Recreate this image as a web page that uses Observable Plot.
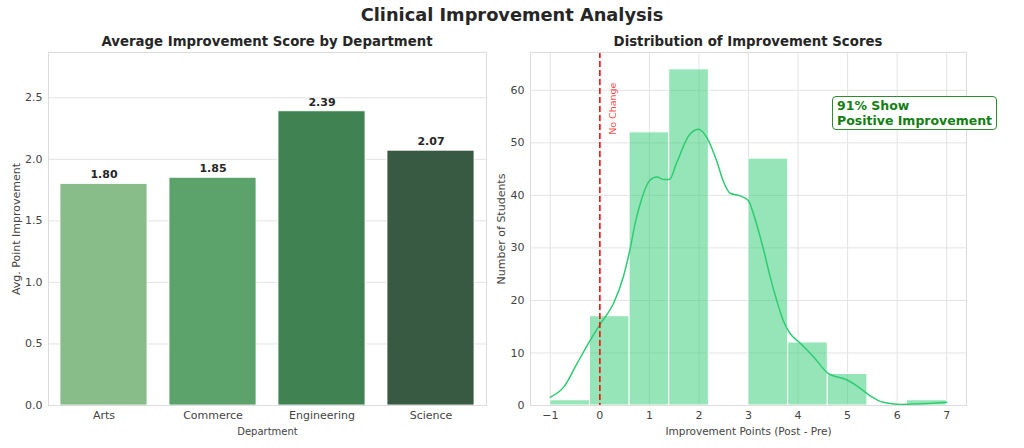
<!DOCTYPE html>
<html>
<head>
<meta charset="utf-8">
<script src="https://cdn.jsdelivr.net/npm/d3@7"></script>
<script src="https://cdn.jsdelivr.net/npm/@observablehq/plot@0.6"></script>
<style>
  body { margin: 0; background: #fff; font-family: "DejaVu Sans", sans-serif; }
  #wrap { position: relative; width: 1024px; height: 448px; overflow: hidden; }
  .abs { position: absolute; }
  .title { top: 4px; left: 0; width: 1024px; text-align: center; font-size: 17.8px; font-weight: bold; color: #262626; }
  .sub { top: 34px; font-size: 13.3px; font-weight: bold; color: #262626; text-align: center; }
  .note { left: 832px; top: 96px; border: 1px solid #2e8b2e; border-radius: 4px; background: #fff;
          color: #138013; font-weight: bold; font-size: 12.5px; line-height: 15px; padding: 1px 4px 1px 4px; white-space: nowrap; }
  svg { overflow: visible; }
</style>
</head>
<body>
<div id="wrap">
  <div id="left" class="abs" style="left:0;top:0"></div>
  <div id="right" class="abs" style="left:500px;top:0"></div>
  <div class="abs title">Clinical Improvement Analysis</div>
  <div class="abs sub" style="left:48px;width:438px">Average Improvement Score by Department</div>
  <div class="abs sub" style="left:530px;width:436px">Distribution of Improvement Scores</div>
  <div class="abs note">91% Show<br>Positive Improvement</div>
</div>
<script>
// ---- Data ----
const departments = ["Arts", "Commerce", "Engineering", "Science"];
const avgImprovement = [1.80, 1.85, 2.39, 2.07];
const deptPalette = ["#88bd8a", "#5ba26b", "#418253", "#385942"];

const binEdges = [-1, -0.2, 0.6, 1.4, 2.2, 3.0, 3.8, 4.6, 5.4, 6.2, 7.0];
const binCounts = [1, 17, 52, 64, 0, 47, 12, 6, 0, 1];

const kdeX = [-1, -0.73, -0.46, -0.19, 0, 0.28, 0.48, 0.61, 0.72, 0.85, 1.0, 1.15, 1.3, 1.4, 1.55, 1.79, 1.99, 2.16, 2.36, 2.5, 2.63, 2.83, 3.0, 3.1, 3.2, 3.3, 3.44, 3.57, 3.7, 3.84, 4.04, 4.31, 4.61, 4.98, 5.18, 5.45, 5.72, 6.06, 6.39, 6.73, 7.0];
const kdeY = [1.6, 3.5, 8, 12.5, 15.4, 19.5, 24.7, 29.8, 35, 39.5, 42.8, 43.5, 43.0, 43.0, 46.2, 51.3, 52.6, 51, 46.5, 42.5, 40.4, 39.9, 39.0, 36.5, 33.3, 29.8, 24.4, 20.0, 16.2, 13.7, 11.9, 9.3, 6.1, 4.9, 3.8, 1.9, 0.6, 0.2, 0.3, 0.45, 0.6];

const xTicksRight = [-1, 0, 1, 2, 3, 4, 5, 6, 7];
const yTicksLeft = [0, 0.5, 1.0, 1.5, 2.0, 2.5];
const yTicksRight = [0, 10, 20, 30, 40, 50, 60];

// ---- Tables ----
const deptData = departments.map((d, i) => ({ dept: d, value: avgImprovement[i] }));
const histData = binCounts.map((c, i) => ({ x1: binEdges[i], x2: binEdges[i + 1], count: c })).filter(d => d.count > 0);
const kdeData = kdeX.map((x, i) => ({ x, y: kdeY[i] }));

const common = {
  style: { fontFamily: "DejaVu Sans, sans-serif", fontSize: "11px", color: "#444", background: "transparent" }
};

// ---- Left chart ----
const left = Plot.plot({
  ...common,
  width: 500, height: 448,
  marginLeft: 48, marginRight: 14, marginTop: 52, marginBottom: 43,
  x: { domain: departments, padding: 0, label: null },
  y: { domain: [0, 2.868], label: null },
  color: { domain: departments, range: deptPalette },
  marks: [
    Plot.gridY(yTicksLeft, { stroke: "#e3e3e3", strokeOpacity: 1, strokeWidth: 1 }),
    Plot.barY(deptData, { x: "dept", y: "value", fill: "dept", insetLeft: 11, insetRight: 11, stroke: "#fff", strokeWidth: 0.8 }),
    Plot.text(deptData, { x: "dept", y: "value", text: d => d.value.toFixed(2), dy: -9, fontWeight: "bold", fontSize: 11, fill: "#262626" }),
    Plot.frame({ stroke: "#dcdcdc" }),
    Plot.axisY(yTicksLeft, { tickSize: 0, tickPadding: 6, tickFormat: d3.format(".1f"), fontSize: 11, label: "Avg. Point Improvement", labelAnchor: "center", labelArrow: "none", labelOffset: 36 }),
    Plot.axisX({ tickSize: 0, tickPadding: 6, fontSize: 11, label: null }),
    Plot.text(["Department"], { frameAnchor: "bottom", dy: 29, fontSize: 10, fill: "#444" })
  ]
});
document.getElementById("left").appendChild(left);

// ---- Right chart ----
const right = Plot.plot({
  ...common,
  width: 524, height: 448,
  marginLeft: 30, marginRight: 58, marginTop: 52, marginBottom: 43,
  x: { domain: [-1.4, 7.4], label: null },
  y: { domain: [0, 67.2], label: null },
  marks: [
    Plot.gridY(yTicksRight, { stroke: "#e3e3e3", strokeOpacity: 1 }),
    Plot.gridX(xTicksRight, { stroke: "#e3e3e3", strokeOpacity: 1 }),
    Plot.rectY(histData, { x1: "x1", x2: "x2", y: "count", fill: "#2ecc71", fillOpacity: 0.5, stroke: "#fff", strokeWidth: 1 }),
    Plot.line(kdeData, { x: "x", y: "y", stroke: "#2ecc71", strokeWidth: 1.5, curve: "monotone-x" }),
    Plot.ruleX([0], { stroke: "red", strokeWidth: 1.5, strokeDasharray: "6,3" }),
    Plot.text(["No Change"], { x: 0.27, y: 56.5, rotate: -90, fill: "red", fillOpacity: 0.75, fontSize: 9.5 }),
    Plot.frame({ stroke: "#dcdcdc" }),
    Plot.axisY(yTicksRight, { tickSize: 0, tickPadding: 6, fontSize: 11, label: "Number of Students", labelAnchor: "center", labelArrow: "none", labelOffset: 33 }),
    Plot.axisX(xTicksRight, { tickSize: 0, tickPadding: 6, fontSize: 11, label: null }),
    Plot.text(["Improvement Points (Post - Pre)"], { frameAnchor: "bottom", dy: 29, fontSize: 10.5, fill: "#444" })
  ]
});
document.getElementById("right").appendChild(right);
</script>
</body>
</html>
